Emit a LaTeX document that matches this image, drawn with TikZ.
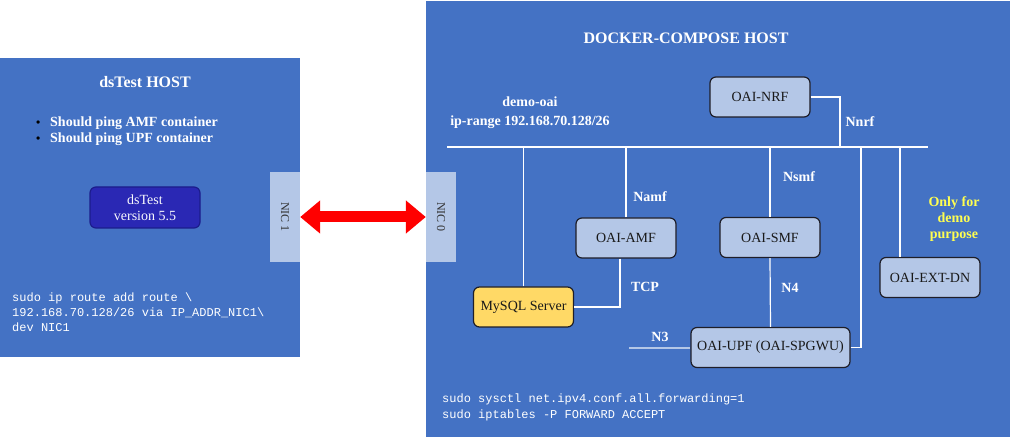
\documentclass[tikz,border=0pt]{standalone}
\usepackage{fontspec}
\setmainfont{Liberation Serif}
\setmonofont{Liberation Mono}
\usetikzlibrary{arrows.meta}

\definecolor{hostblue}{RGB}{68,114,196}
\definecolor{nicfill}{RGB}{180,199,231}
\definecolor{boxline}{RGB}{30,30,40}
\definecolor{dbyellow}{RGB}{255,217,102}
\definecolor{dsfill}{RGB}{42,40,180}
\definecolor{dsline}{RGB}{28,28,140}
\definecolor{demoyellow}{RGB}{255,255,80}

\begin{document}
\begin{tikzpicture}[x = 1pt, y = -1pt,
  box/.style = {draw = boxline, line width = 1.2pt, rounded corners = 6pt, fill = nicfill, minimum width = 100pt, minimum height = 40pt, inner sep = 0pt, text = black!90, font = \fontsize{14}{16}\selectfont},
  nic/.style = {fill = nicfill, minimum width = 30pt, minimum height = 90pt, inner sep = 0pt},
  nictext/.style = {rotate = -90, text = black!80, font = \fontsize{12}{14}\selectfont},
  lbl/.style = {text = white, align = center, inner sep = 0pt, font = \bfseries\fontsize{14}{16}\selectfont},
  code/.style = {text = white, align = left, anchor = west, inner sep = 0pt, font = \ttfamily\fontsize{12}{15}\selectfont},
  link/.style = {draw = white, line width = 1.2pt}]

\useasboundingbox (0,0) rectangle (1012,438);

% hosts
\fill [hostblue] (0,58) rectangle (300,357);
\fill [hostblue] (426,1) rectangle (1010,437);

\node (nic1) [nic, label = {[nictext]center:NIC 1}] at (285,217) {};
\node (nic0) [nic, label = {[nictext]center:NIC 0}] at (441,217) {};

% dsTest host
\node (t1) [lbl, font = \bfseries\fontsize{16}{18}\selectfont] at (145,82) {dsTest HOST};
\node (t2) [lbl, align = left, anchor = west] at (36,131) {\makebox[14pt][l]{\textcolor{black}{\fontsize{12}{12}\selectfont\textbullet}}Should ping AMF container\\\makebox[14pt][l]{\textcolor{black}{\fontsize{12}{12}\selectfont\textbullet}}Should ping UPF container};
\node (ds) [box, fill = dsfill, draw = dsline, minimum width = 110pt, minimum height = 41pt, text = white!90!nicfill, align = center] at (145,207.5) {dsTest\\version 5.5};
\node (c1) [code] at (12,312) {sudo ip route add route \textbackslash\\192.168.70.128/26 via IP\_ADDR\_NIC1\textbackslash\\dev NIC1};

% docker-compose host
\node (t3) [lbl, font = \bfseries\fontsize{16}{18}\selectfont] at (686,38) {DOCKER-COMPOSE HOST};
\node (t4) [lbl, font = \bfseries\fontsize{14}{19}\selectfont] at (530,112.5) {demo-oai\\ip-range 192.168.70.128/26};

\node (nrf) [box] at (760,97) {OAI-NRF};
\node (amf) [box] at (626,238) {OAI-AMF};
\node (smf) [box] at (770,237.5) {OAI-SMF};
\node (dn) [box] at (930,277.5) {OAI-EXT-DN};
\node (db) [box, fill = dbyellow] at (523.5,307) {MySQL Server};
\node (upf) [box, minimum width = 159pt] at (770.5,347.5) {OAI-UPF (OAI-SPGWU)};

\coordinate (busw) at (447,147);
\coordinate (buse) at (928,147);
\coordinate (tap1) at (840,147);
\coordinate (tap2) at (861,147);
\coordinate (n3) at (629,347.5);

\draw [link] (busw) -- (buse);
\draw [link] (db.north) -- (db.north |- busw);
\draw [link] (amf.north) -- (amf.north |- busw);
\draw [link] (smf.north) -- (smf.north |- busw);
\draw [link] ([xshift = -30pt]dn.north) -- ([xshift = -30pt]dn.north |- busw);
\draw [link] (nrf.east) -| (tap1);
\draw [link] (upf.east) -| (tap2);
\draw [link] ([xshift = -6pt]amf.south) |- (db.east);
\draw [link] (smf.south) -- (upf.north);
\draw [draw = nicfill, line width = 2pt] (n3) -- (upf.west);

\node (l1) [lbl] at (860,122) {Nnrf};
\node (l2) [lbl] at (650,197) {Namf};
\node (l3) [lbl] at (799,177) {Nsmf};
\node (l4) [lbl] at (645,287) {TCP};
\node (l5) [lbl] at (790,288) {N4};
\node (l6) [lbl] at (660,337) {N3};
\node (l7) [lbl, text = demoyellow] at (954,219) {Only for\\demo\\purpose};

\node (c2) [code, font = \ttfamily\fontsize{12}{16}\selectfont] at (442,407) {sudo sysctl net.ipv4.conf.all.forwarding=1\\sudo iptables -P FORWARD ACCEPT};

% link between hosts
\draw [red, line width = 11pt, {Triangle[length = 20pt, width = 32pt]}-{Triangle[length = 20pt, width = 32pt]}] (nic1) -- (nic0);
\end{tikzpicture}
\end{document}
